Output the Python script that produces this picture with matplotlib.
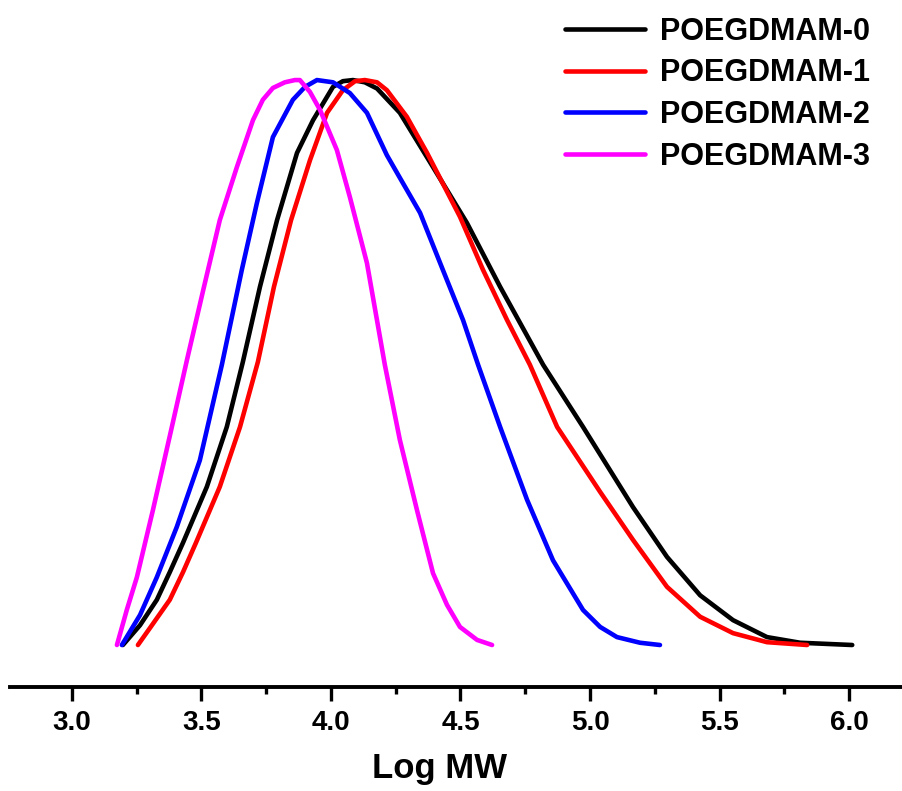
import matplotlib
matplotlib.use("Agg")
import matplotlib.pyplot as plt
from matplotlib.ticker import MultipleLocator

plt.rcParams['font.family'] = ['Liberation Sans', 'DejaVu Sans']
plt.rcParams['font.weight'] = 'bold'

labels = ["POEGDMAM-0", "POEGDMAM-1", "POEGDMAM-2", "POEGDMAM-3"]
colors = ["#000000", "#ff0000", "#0000ff", "#ff00ff"]

# values (normalized signal vs Log MW)
x0 = [3.197, 3.263, 3.328, 3.378, 3.429, 3.521, 3.598, 3.660, 3.726, 3.792, 3.869, 3.931,
      4.008, 4.046, 4.085, 4.131, 4.178, 4.266, 4.394, 4.525, 4.653, 4.819, 4.973,
      5.166, 5.297, 5.425, 5.552, 5.683, 5.811, 6.012]
y0 = [0.0, 0.035, 0.080, 0.129, 0.181, 0.280, 0.386, 0.501, 0.634, 0.752, 0.871, 0.929,
      0.988, 0.998, 1.0, 0.996, 0.985, 0.942, 0.846, 0.747, 0.634, 0.496, 0.386,
      0.244, 0.156, 0.088, 0.044, 0.014, 0.004, 0.0]

x1 = [3.255, 3.309, 3.378, 3.429, 3.479, 3.571, 3.649, 3.718, 3.780, 3.846, 3.919, 3.985,
      4.046, 4.093, 4.131, 4.178, 4.216, 4.293, 4.371, 4.498, 4.587, 4.680, 4.768, 4.873,
      5.039, 5.166, 5.297, 5.425, 5.552, 5.683, 5.838]
y1 = [0.0, 0.035, 0.080, 0.129, 0.181, 0.280, 0.386, 0.501, 0.634, 0.752, 0.858, 0.942,
      0.982, 0.998, 1.0, 0.996, 0.982, 0.935, 0.871, 0.758, 0.664, 0.575, 0.496, 0.386,
      0.271, 0.186, 0.103, 0.050, 0.021, 0.005, 0.0]

x2 = [3.193, 3.263, 3.328, 3.405, 3.494, 3.579, 3.656, 3.714, 3.776, 3.853, 3.900, 3.946,
      4.008, 4.073, 4.139, 4.216, 4.266, 4.344, 4.432, 4.510, 4.568, 4.653, 4.757, 4.857,
      4.973, 5.039, 5.104, 5.193, 5.270]
y2 = [0.0, 0.053, 0.120, 0.209, 0.327, 0.496, 0.664, 0.782, 0.899, 0.965, 0.988, 1.0,
      0.996, 0.977, 0.942, 0.867, 0.827, 0.765, 0.664, 0.575, 0.496, 0.386, 0.257, 0.150,
      0.062, 0.032, 0.014, 0.004, 0.0]

x3 = [3.174, 3.212, 3.251, 3.313, 3.386, 3.444, 3.510, 3.571, 3.637, 3.699, 3.737, 3.776,
      3.822, 3.861, 3.880, 3.919, 3.958, 4.023, 4.073, 4.139, 4.208, 4.266, 4.332, 4.394,
      4.448, 4.498, 4.564, 4.622]
y3 = [0.0, 0.062, 0.120, 0.239, 0.386, 0.504, 0.634, 0.752, 0.846, 0.929, 0.965, 0.986,
      0.996, 1.0, 1.0, 0.979, 0.947, 0.876, 0.793, 0.676, 0.496, 0.363, 0.239, 0.127,
      0.071, 0.032, 0.009, 0.0]

xs = [x0, x1, x2, x3]
ys = [y0, y1, y2, y3]

fig = plt.figure(figsize=(9.03, 7.91), dpi=100)
ax = fig.add_axes([0.011, 0.1315, 0.989, 0.843])

for x, y, c, lab in zip(xs, ys, colors, labels):
    ax.plot(x, y, color=c, lw=3.3, label=lab, solid_capstyle='round',
            solid_joinstyle='round')

ax.set_xlim(2.761, 6.208)
ax.set_ylim(-0.0743, 1.106)

for s in ['left', 'right', 'top']:
    ax.spines[s].set_visible(False)
ax.spines['bottom'].set_linewidth(2.8)
ax.set_yticks([])
ax.xaxis.set_major_locator(MultipleLocator(0.5))
ax.xaxis.set_minor_locator(MultipleLocator(0.25))
ax.tick_params(axis='x', which='major', length=10, width=2.4, pad=6.5, labelsize=20)
ax.tick_params(axis='x', which='minor', length=5, width=2.4)
for t in ax.get_xticklabels():
    t.set_fontweight('bold')
ax.set_xlabel("Log MW", fontsize=25, fontweight='bold')
ax.xaxis.set_label_coords(0.4815, -0.0975)

ax.legend(loc='upper right', bbox_to_anchor=(0.963, 1.005), frameon=False,
          prop={'size': 22, 'weight': 'bold'}, handlelength=2.6,
          handletextpad=0.5, labelspacing=0.38, borderpad=0, borderaxespad=0)

fig.savefig("out.png", dpi=100)
